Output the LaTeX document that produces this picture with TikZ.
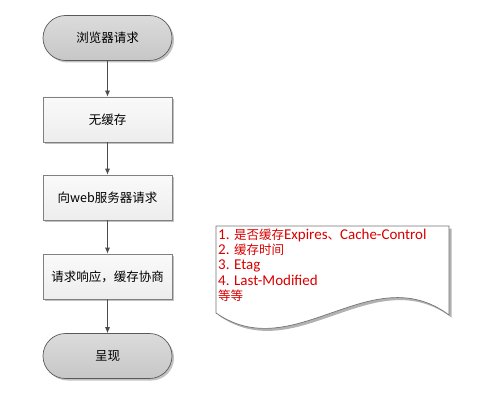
\documentclass[tikz,border=0pt]{standalone}
\usepackage{fontspec}
\setmainfont{Noto Sans CJK SC}
\newfontfamily\lat[Scale=1.2]{Carlito}
\usetikzlibrary{shapes.misc,shadows,arrows.meta}

\tikzset{
  base/.style={minimum width=129pt, minimum height=45pt, inner sep=0pt,
    font=\fontsize{12.5}{15}\selectfont,
    drop shadow={shadow xshift=2pt, shadow yshift=-2pt, fill=black!30, opacity=0.8}},
  term/.style={base, rounded rectangle, draw=black!65, line width=0.7pt,
    top color=black!14, bottom color=black!22},
  proc/.style={base, rectangle, draw=black!50, line width=0.7pt,
    top color=black!2, bottom color=black!7},
  flow/.style={draw=black!70, line width=0.7pt, -{Latex[length=6pt,width=5pt]}}
}

\begin{document}
\begin{tikzpicture}[x=1pt,y=-1pt]
      \useasboundingbox (0,0) rectangle (481,401);
      \draw
      (107.5,38) node[term] (S) {浏览器请求}
      (107.5,119.5) node[proc] (N1) {无缓存}
      (107.5,197.5) node[proc] (N2) {向web服务器请求}
      (107.5,276.5) node[proc] (N3) {请求响应，缓存协商}
      (107.5,356) node[term] (E) {呈现};
      \draw[flow] (S) -- (N1);
      \draw[flow] (N1) -- (N2);
      \draw[flow] (N2) -- (N3);
      \draw[flow] (N3) -- (E);
      % note
      \fill[black!30] (218.5,228.5) -- (451.5,228.5) -- (451.5,317.5)
        .. controls (373.5,259.5) and (296.5,369.5) .. (218.5,315.5) -- cycle;
      \draw[draw=black!55, line width=0.7pt, fill=white]
        (216,226) -- (449,226) -- (449,315)
        .. controls (371,257) and (294,367) .. (216,313) -- cycle;
      \node[anchor=north west, inner sep=0pt, align=left, text=red!85!black,
        font=\fontsize{12.5}{15.3}\selectfont] (T) at (218,228.5)
        {{\lat 1. }是否缓存{\lat Expires}、{\lat Cache-Control}\\
         {\lat 2. }缓存时间\\
         {\lat 3. Etag}\\
         {\lat 4. Last-Modified}\\
         等等};
\end{tikzpicture}
\end{document}
